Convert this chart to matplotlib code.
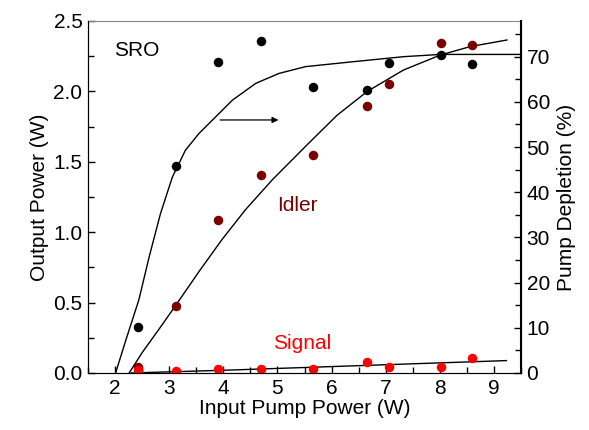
import matplotlib
matplotlib.use("Agg")
import matplotlib.pyplot as plt
from matplotlib.ticker import MultipleLocator

plt.rcParams['font.family'] = ['Liberation Sans', 'DejaVu Sans']

# measured points (input pump power, W)
pump_in = [2.42, 3.12, 3.90, 4.69, 5.65, 6.66, 7.07, 8.03, 8.60]
depletion = [10.2, 45.8, 68.8, 73.5, 63.3, 62.6, 68.6, 70.4, 68.4]   # %
idler = [0.045, 0.476, 1.087, 1.408, 1.546, 1.896, 2.055, 2.344, 2.327]  # W
signal = [0.02, 0.014, 0.028, 0.03, 0.028, 0.08, 0.045, 0.04, 0.104]    # W

# theory curves
dep_fit_x = [2.01, 2.20, 2.44, 2.63, 2.84, 3.06, 3.30, 3.55, 3.86, 4.17, 4.60,
             5.03, 5.52, 6.41, 7.33, 8.01, 9.5]
dep_fit_y = [0.0, 7.3, 16.2, 25.7, 35.3, 43.4, 49.3, 53.0, 56.7, 60.4, 64.1,
             66.3, 67.8, 68.9, 70.0, 70.5, 70.5]
idl_fit_x = [2.26, 2.51, 2.81, 3.12, 3.55, 3.98, 4.41, 4.90, 5.52, 6.10, 6.66,
             7.33, 8.01, 8.56, 9.24]
idl_fit_y = [0.0, 0.15, 0.31, 0.48, 0.72, 0.95, 1.16, 1.37, 1.61, 1.83, 2.0,
             2.152, 2.258, 2.318, 2.365]
sig_fit_x = [2.3, 4.14, 9.23]
sig_fit_y = [0.0, 0.021, 0.088]

fig = plt.figure(figsize=(5.89, 4.30), dpi=100)
ax = fig.add_axes([0.1494, 0.1326, 0.7352, 0.8186])
ax2 = ax.twinx()

ax.plot(idl_fit_x, idl_fit_y, color='black', lw=1)
ax.plot(sig_fit_x, sig_fit_y, color='black', lw=1)
ax.scatter(pump_in, idler, s=34, color='#7a0000', zorder=3)
ax.scatter(pump_in, signal, s=34, color='#ff0000', zorder=3)

ax2.plot(dep_fit_x, dep_fit_y, color='black', lw=1)
ax2.scatter(pump_in, depletion, s=34, color='black', zorder=3)

ax.set_xlim(1.5, 9.5)
ax.set_ylim(0, 2.5)
ax2.set_ylim(0, 77.9)

ax.xaxis.set_major_locator(MultipleLocator(1))
ax.xaxis.set_minor_locator(MultipleLocator(0.5))
ax.yaxis.set_major_locator(MultipleLocator(0.5))
ax.yaxis.set_minor_locator(MultipleLocator(0.25))
ax2.yaxis.set_major_locator(MultipleLocator(10))
ax2.yaxis.set_minor_locator(MultipleLocator(5))
ax.yaxis.set_major_formatter(plt.FormatStrFormatter('%.1f'))

for a in (ax, ax2):
    a.tick_params(which='both', direction='in', labelsize=15, top=False, pad=4)
    a.tick_params(which='major', length=5, width=1)
    a.tick_params(which='minor', length=4, width=1)
ax.tick_params(axis='y', right=False)
ax2.tick_params(axis='y', left=False)

ax.spines['top'].set_color('#888888')
ax.spines['top'].set_linewidth(0.8)
ax2.spines['top'].set_visible(False)
ax2.spines['right'].set_linewidth(1.5)

ax.set_xlabel('Input Pump Power (W)', fontsize=15, labelpad=1)
ax.set_ylabel('Output Power (W)', fontsize=15, labelpad=3)
ax2.set_ylabel('Pump Depletion (%)', fontsize=15, labelpad=5)

ax.text(1.98, 2.287, 'SRO', fontsize=15, va='center', ha='left')
ax.text(4.99, 1.193, 'Idler', fontsize=15, va='center', ha='left', color='#7a0000')
ax.text(4.92, 0.211, 'Signal', fontsize=15, va='center', ha='left', color='#ff0000')
ax.annotate('', xy=(5.07, 1.797), xytext=(3.89, 1.797),
            arrowprops=dict(arrowstyle='-|>', color='black', lw=0.9, mutation_scale=9))

fig.savefig('out.png', dpi=100)
